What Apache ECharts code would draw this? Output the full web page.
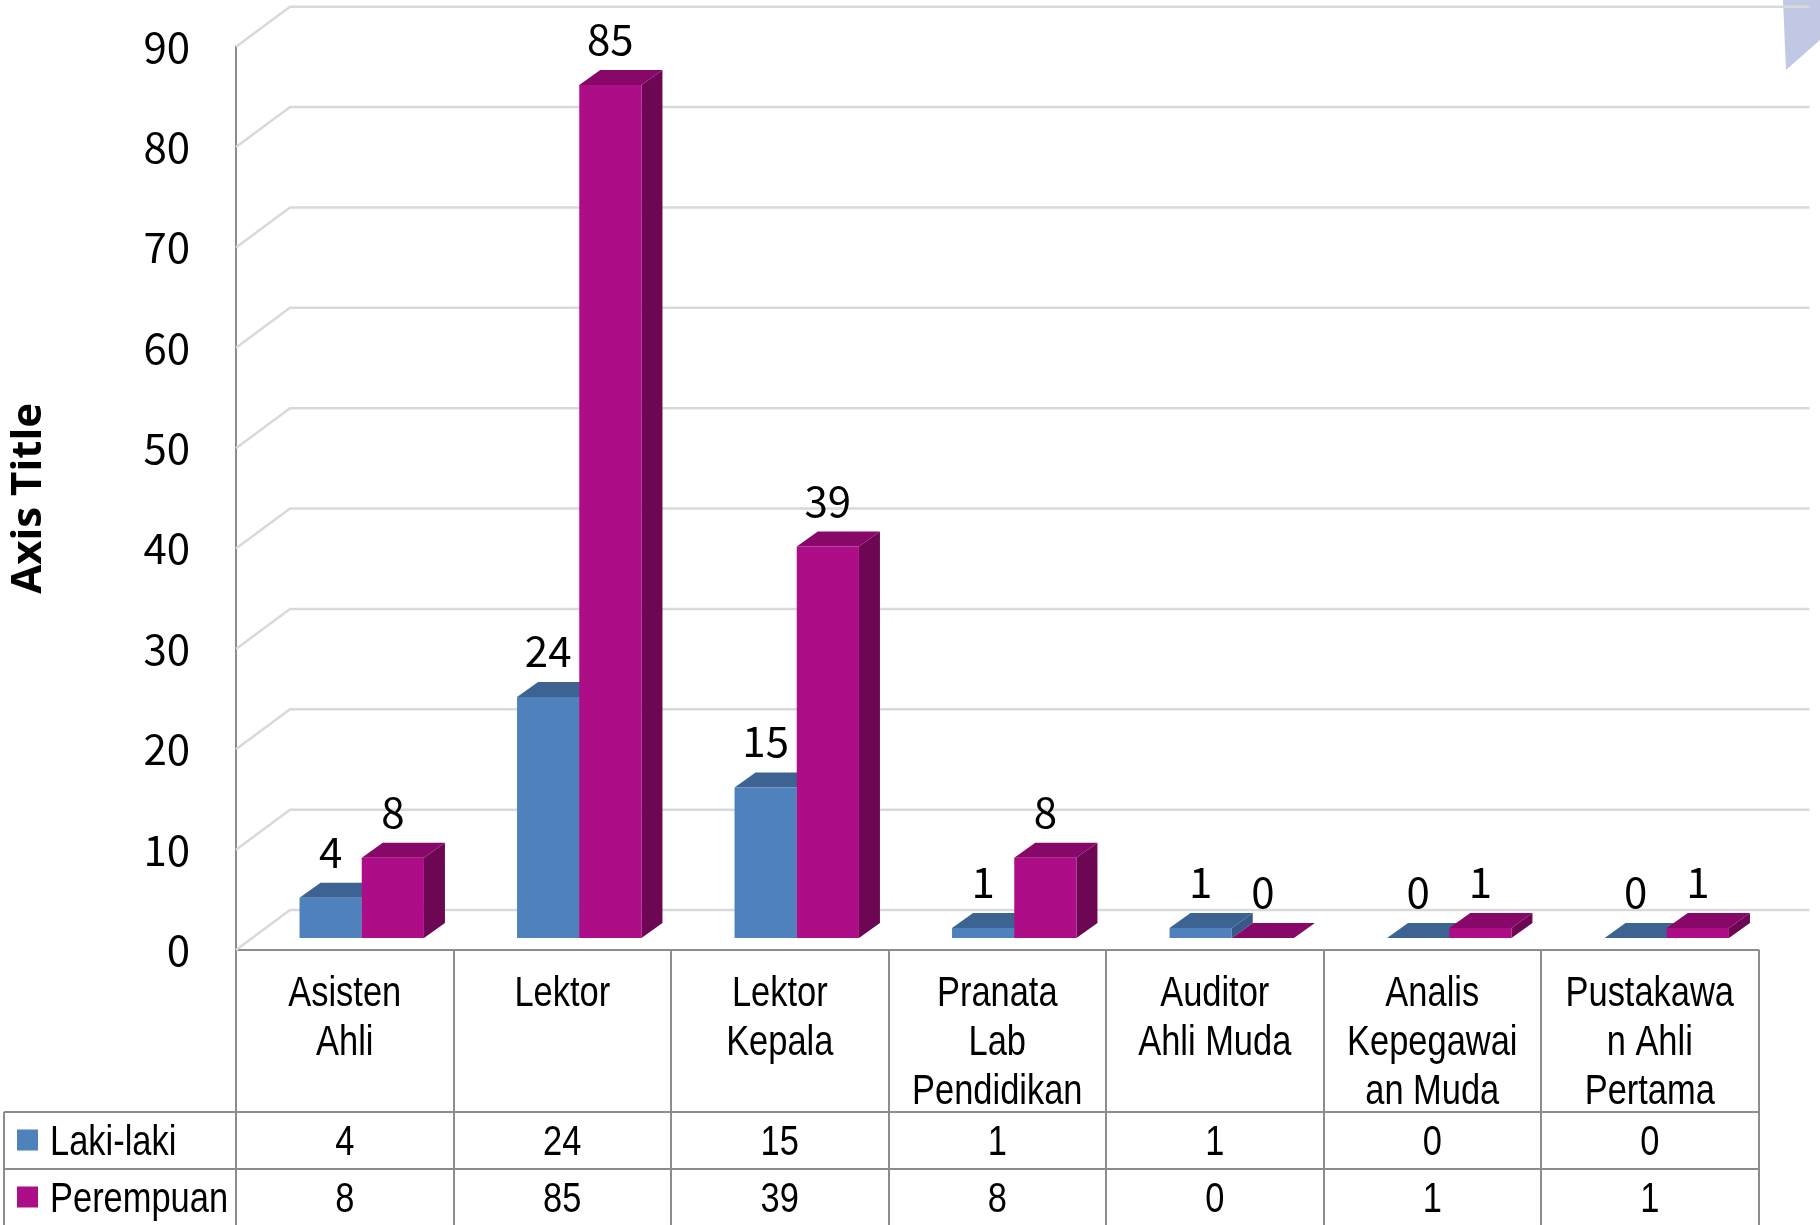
<!doctype html>
<html>
<head>
<meta charset="utf-8">
<title>Jabatan Fungsional - Laki-laki / Perempuan</title>
<style>
  html, body { margin: 0; padding: 0; background: #fff; }
  #main { width: 1820px; height: 1225px; }
</style>
</head>
<body>
<div id="main"></div>
<script src="https://cdn.jsdelivr.net/npm/echarts@6/dist/echarts.min.js"></script>
<script>
var categories = ['Asisten\nAhli', 'Lektor', 'Lektor\nKepala', 'Pranata\nLab\nPendidikan',
    'Auditor\nAhli Muda', 'Analis\nKepegawai\nan Muda', 'Pustakawa\nn Ahli\nPertama'];
var seriesNames = ['Laki-laki', 'Perempuan'];
var lakiLaki = [4, 24, 15, 1, 1, 0, 0];
var perempuan = [8, 85, 39, 8, 0, 1, 1];
var yTicks = [0, 10, 20, 30, 40, 50, 60, 70, 80, 90];

var chart = echarts.init(document.getElementById('main'));

var NUM_FONT = '"Noto Sans CJK KR", "Noto Sans", sans-serif';
var TABLE_FONT = '"Liberation Sans", Arial, sans-serif';
var NARROW = 0.82; // Arial Narrow look
var LINE = '#8c8c8c';

// fake 3d: wall depth, bar thickness, and how far bars sit into the floor
var DEPTH_X = 54, DEPTH_Y = -40;
var BAR_DX = 21, BAR_DY = -15;
var SHIFT_X = 17, SHIFT_Y = -12;

function barSeries(name, values, side, colors) {
    return {
        type: 'custom',
        name: name,
        z: 3,
        itemStyle: { color: colors.front },
        data: values.map(function (v, i) { return [i, v]; }),
        renderItem: function (params, api) {
            var base = api.coord([api.value(0), 0]);
            var top = api.coord([api.value(0), api.value(1)]);
            var w = api.size([1, 0])[0] * 0.286;
            var mid = base[0] + SHIFT_X;
            var x0 = side < 0 ? mid - w : mid;
            var x1 = x0 + w;
            var yb = base[1] + SHIFT_Y;
            var yt = top[1] + SHIFT_Y;
            return {
                type: 'group',
                children: [
                    { type: 'polygon', shape: { points: [[x1, yt], [x1 + BAR_DX, yt + BAR_DY], [x1 + BAR_DX, yb + BAR_DY], [x1, yb]] },
                      style: { fill: colors.side } },
                    { type: 'polygon', shape: { points: [[x0, yt], [x1, yt], [x1 + BAR_DX, yt + BAR_DY], [x0 + BAR_DX, yt + BAR_DY]] },
                      style: { fill: colors.top } },
                    { type: 'rect', shape: { x: x0, y: yt, width: w, height: yb - yt },
                      style: { fill: colors.front } },
                    { type: 'text', x: x0 + w / 2, y: yt - 46,
                      style: { text: String(api.value(1)), fill: '#000', fontSize: 42, fontFamily: NUM_FONT,
                               align: 'center', verticalAlign: 'middle' } }
                ]
            };
        }
    };
}

function tableText(text, x, y, vAlign) {
    return {
        type: 'text', x: x, y: y, scaleX: NARROW,
        style: { text: text, fill: '#000', fontSize: 42, fontFamily: TABLE_FONT, lineHeight: 49,
                 align: 'center', verticalAlign: vAlign }
    };
}

function lineAxis(offset, tickLen) {
    return {
        type: 'category',
        data: categories,
        position: 'bottom',
        offset: offset,
        axisLine: { show: true, lineStyle: { color: LINE, width: 2 } },
        axisTick: { show: true, length: tickLen, lineStyle: { color: LINE, width: 2 } },
        axisLabel: { show: false }
    };
}

chart.setOption({
    animation: false,
    grid: { left: 236, right: 61.5, top: 46.7, bottom: 275 },
    legend: {
        data: seriesNames,
        orient: 'vertical',
        left: 17, top: 1118,
        padding: 0,
        itemGap: 13,
        itemWidth: 21, itemHeight: 21,
        icon: 'rect',
        selectedMode: false,
        formatter: function () { return ' '; },
        textStyle: { fontSize: 40, lineHeight: 44 }
    },
    xAxis: [lineAxis(0, 162), lineAxis(162, 57), lineAxis(219, 57)],
    yAxis: {
        type: 'value',
        min: 0, max: 90, interval: 10,
        name: 'Axis Title',
        nameLocation: 'middle',
        nameRotate: 90,
        nameGap: 186,
        nameTextStyle: { fontSize: 42, fontWeight: 'bold', fontFamily: '"Open Sans", sans-serif', color: '#000' },
        axisLine: { show: true, lineStyle: { color: LINE, width: 2 } },
        axisTick: { show: false },
        splitLine: { show: false },
        axisLabel: { fontSize: 42, fontFamily: NUM_FONT, color: '#000', margin: 46 }
    },
    graphic: [
        { type: 'polygon', z: -1, shape: { points: [[1783, 0], [1820, 0], [1820, 40], [1786, 70]] }, style: { fill: '#c0c8e4' } },
        { type: 'line', shape: { x1: 4, y1: 1112, x2: 236, y2: 1112 }, style: { stroke: LINE, lineWidth: 2 } },
        { type: 'line', shape: { x1: 4, y1: 1169, x2: 236, y2: 1169 }, style: { stroke: LINE, lineWidth: 2 } },
        { type: 'line', shape: { x1: 4, y1: 1112, x2: 4, y2: 1225 }, style: { stroke: LINE, lineWidth: 2 } },
        { type: 'text', x: 50, y: 1143, scaleX: NARROW,
          style: { text: seriesNames[0], fill: '#000', fontSize: 42, fontFamily: TABLE_FONT, verticalAlign: 'middle' } },
        { type: 'text', x: 50, y: 1200, scaleX: NARROW,
          style: { text: seriesNames[1], fill: '#000', fontSize: 42, fontFamily: TABLE_FONT, verticalAlign: 'middle' } }
    ],
    series: [
        {
            type: 'custom',
            name: 'walls',
            z: 1,
            silent: true,
            data: yTicks.map(function (v) { return [0, v]; }),
            renderItem: function (params, api) {
                var cs = params.coordSys;
                var y = api.coord([0, api.value(1)])[1];
                var x = cs.x;
                return {
                    type: 'polyline',
                    shape: { points: [[x, y], [x + DEPTH_X, y + DEPTH_Y], [x + cs.width + DEPTH_X - 3, y + DEPTH_Y]] },
                    style: { stroke: '#d9d9d9', lineWidth: 2.5, fill: null }
                };
            }
        },
        barSeries(seriesNames[0], lakiLaki, -1, { front: '#4f81bd', top: '#3c6392', side: '#36598a' }),
        barSeries(seriesNames[1], perempuan, 1, { front: '#ae0d88', top: '#870869', side: '#6d0653' }),
        {
            // data table under the plot: category names and both value rows
            type: 'custom',
            name: 'table',
            z: 4,
            silent: true,
            data: categories.map(function (c, i) { return [i, 0]; }),
            renderItem: function (params, api) {
                var i = params.dataIndex;
                var p = api.coord([api.value(0), 0]);
                return {
                    type: 'group',
                    children: [
                        tableText(categories[i], p[0], p[1] + 20, 'top'),
                        tableText(String(lakiLaki[i]), p[0], p[1] + 193, 'middle'),
                        tableText(String(perempuan[i]), p[0], p[1] + 250, 'middle')
                    ]
                };
            }
        }
    ]
});

window.onresize = chart.resize;
</script>
</body>
</html>
